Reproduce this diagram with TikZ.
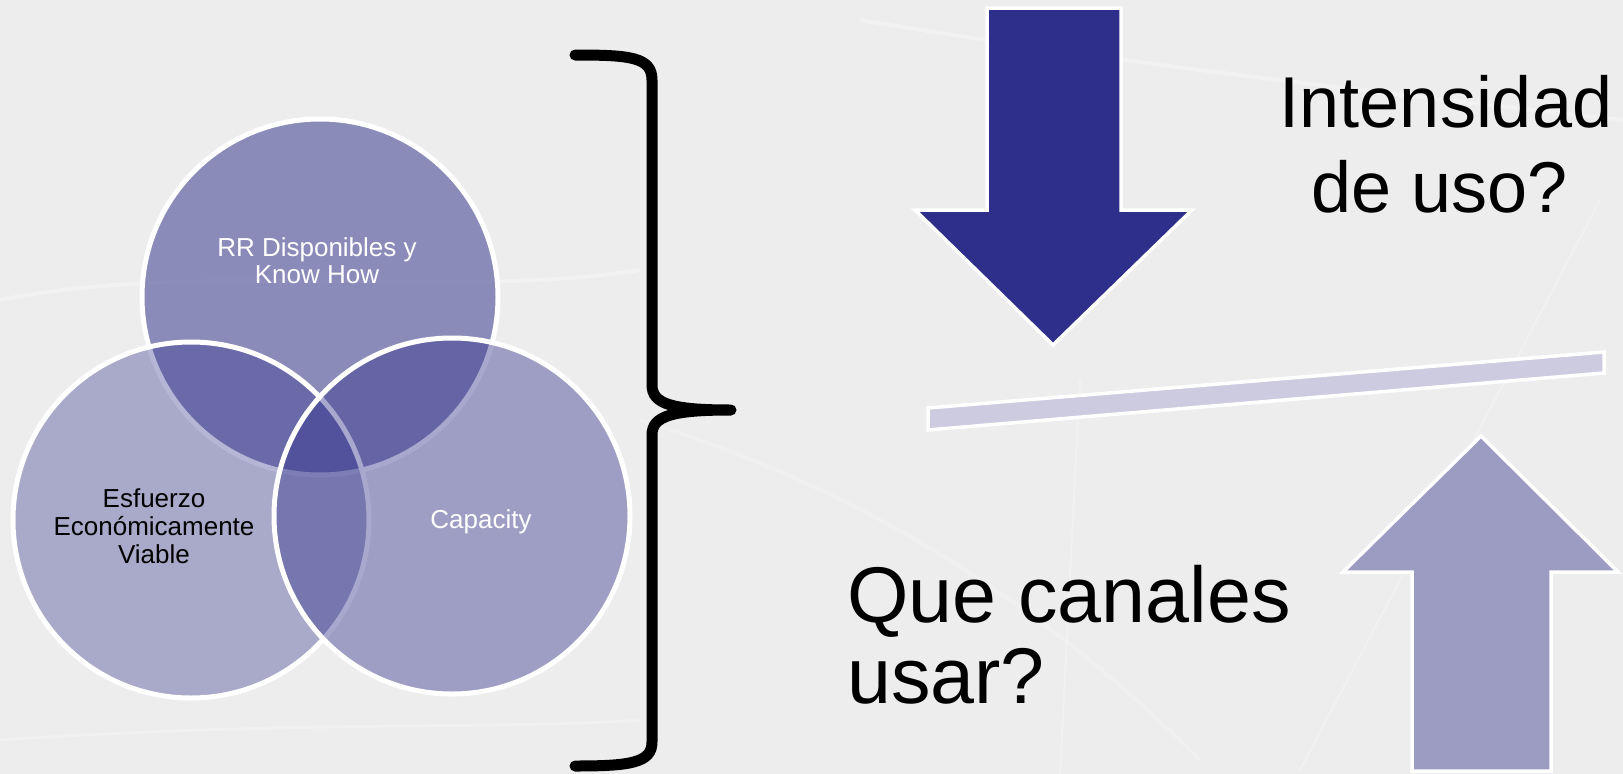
\documentclass[tikz,border=0pt]{standalone}
\usepackage{fontspec}
\setmainfont{Liberation Sans}
\begin{document}
\begin{tikzpicture}[x=1pt,y=-1pt,
  venn/.style={circle, minimum size=356pt, inner sep=0pt, draw=white, line width=5pt, fill=vennbase},
  small/.style={font=\fontsize{26}{28}\selectfont, inner sep=0pt, anchor=base},
  bigA/.style={font=\fontsize{72}{80}\selectfont, inner sep=0pt, anchor=base},
  bigB/.style={font=\fontsize{79}{81}\selectfont, inner sep=0pt, anchor=base west},
  faint/.style={draw=white, line width=4pt, opacity=0.3}
]
\definecolor{bgc}{RGB}{237,237,237}
\definecolor{vennbase}{RGB}{50,50,140}
\definecolor{navy}{RGB}{46,46,139}
\definecolor{plank}{RGB}{204,203,223}
\definecolor{uparrow}{RGB}{156,155,193}
\useasboundingbox (0,0) rectangle (1623,774);
\fill[bgc] (0,0) rectangle (1623,774);
% faint background swooshes
\draw[faint] (0,300) .. controls (200,260) and (450,300) .. (640,270);
\draw[faint] (860,20) .. controls (1100,60) and (1350,90) .. (1623,120);
\draw[faint, opacity=0.2] (640,420) .. controls (800,470) and (1000,560) .. (1200,760);
\draw[faint, line width=2pt, opacity=0.25] (1300,770) -- (1600,200);
\draw[faint, line width=2pt, opacity=0.25] (1060,774) -- (1080,380);
\draw[faint, line width=3pt, opacity=0.25] (0,740) .. controls (300,720) and (500,730) .. (640,720);

% Venn circles
\node[venn, fill opacity=0.52] (top) at (320,297) {};
\node[venn, fill opacity=0.36] (left) at (191,520) {};
\node[venn, fill opacity=0.42] (right) at (452,516) {};
\node[small, text=white] (ttop1) at (317,256) {RR Disponibles y};
\node[small, text=white] (ttop2) at (317,283) {Know How};
\node[small, text=black] (tleft1) at (154,507) {Esfuerzo};
\node[small, text=black] (tleft2) at (154,535) {Económicamente};
\node[small, text=black] (tleft3) at (154,563) {Viable};
\node[small, text=white] (tright) at (481,528) {Capacity};

% brace
\draw[line width=11pt, line cap=round, line join=round]
  (575,55) .. controls (630,55) and (652,57) .. (652,80)
  -- (652,385) .. controls (652,404) and (672,410) .. (731,410)
  .. controls (672,410) and (652,416) .. (652,435)
  -- (652,742) .. controls (652,763) and (630,766) .. (575,766);

% down arrow
\filldraw[fill=navy, draw=white, line width=3.5pt, line join=miter]
  (987,8) -- (1121,8) -- (1121,210) -- (1192,210) -- (1053,345) -- (915,210) -- (987,210) -- cycle;
% plank
\filldraw[fill=plank, draw=white, line width=3.5pt]
  (928,408) -- (1604,352) -- (1604,373) -- (928,430) -- cycle;
% up arrow
\filldraw[fill=uparrow, draw=white, line width=3.5pt, line join=miter]
  (1481,436) -- (1618,572) -- (1551,572) -- (1551,771) -- (1412,771) -- (1412,572) -- (1343,572) -- cycle;

% texts
\node[bigA] (intens) at (1446,127) {Intensidad};
\node[bigA] (deuso) at (1440,212) {de uso?};
\node[bigB] (que) at (847,622) {Que canales};
\node[bigB] (usar) at (847,703) {usar?};
\end{tikzpicture}
\end{document}
